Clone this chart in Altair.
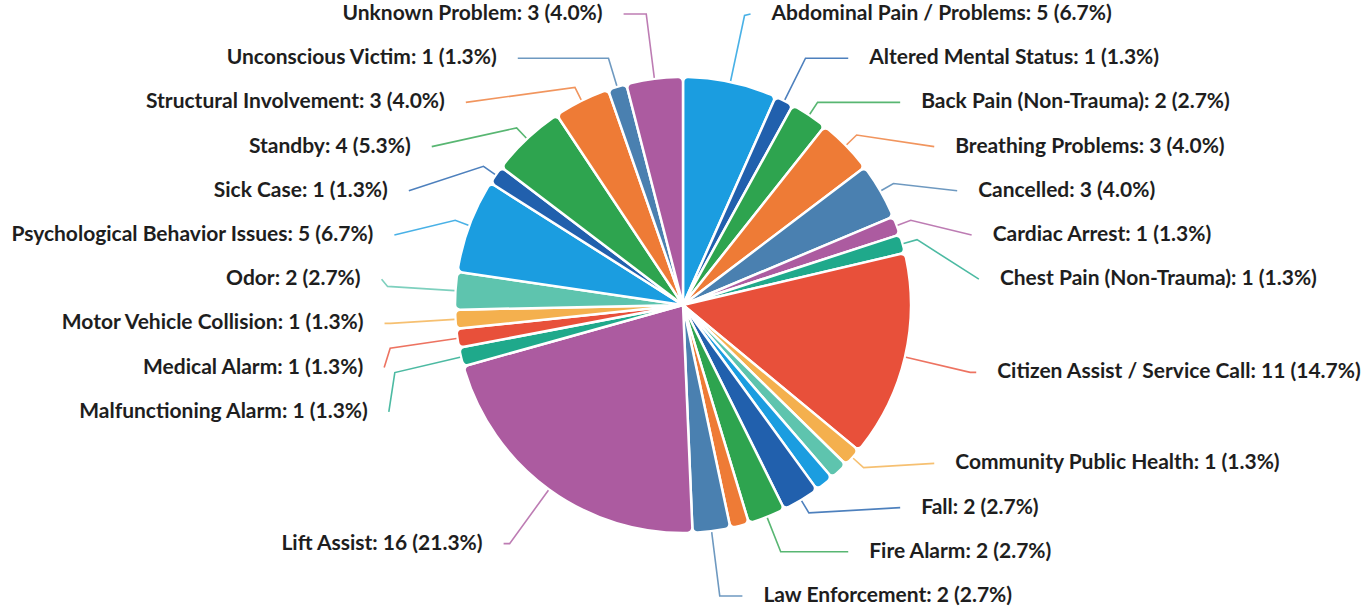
import math

import altair as alt
import pandas as pd

# Call types in alphabetical order (clockwise from 12 o'clock); blank names are slices drawn without a label
categories = [
    "Abdominal Pain / Problems", "Altered Mental Status", "Back Pain (Non-Trauma)",
    "Breathing Problems", "Cancelled", "Cardiac Arrest", "Chest Pain (Non-Trauma)",
    "Citizen Assist / Service Call", "Community Public Health", "", "", "Fall",
    "Fire Alarm", "", "Law Enforcement", "Lift Assist", "Malfunctioning Alarm",
    "Medical Alarm", "Motor Vehicle Collision", "Odor", "Psychological Behavior Issues",
    "Sick Case", "Standby", "Structural Involvement", "Unconscious Victim", "Unknown Problem",
]
counts = [5, 1, 2, 3, 3, 1, 1, 11, 1, 1, 1, 2, 2, 1, 2, 16, 1, 1, 1, 2, 5, 1, 4, 3, 1, 3]
palette = ["#1b9de0", "#2160ad", "#2ea44f", "#ee7b36", "#4a80b0",
           "#ac5ba0", "#1fa98b", "#e8503a", "#f4b04e", "#5ec4ae"]

W, H = 1366, 610            # plot area; pie is centred in it
R_PIE = 228                 # slice radius
R_TARGET = 295              # radius where a label would naturally sit
R_LABEL = 297               # leader lines end on this circle
ROW = 44.2                  # vertical room per label
ROW_LIMIT = 291             # outermost label row, from the centre
GAP = 21                    # connector end to text

total = sum(counts)
keys = [f"s{i:02d}" for i in range(len(counts))]
colors = [palette[i % len(palette)] for i in range(len(counts))]

slices = pd.DataFrame({"key": keys, "category": categories, "value": counts})

# mid-angle of each slice, clockwise from the top
mids, cum = [], 0
for v in counts:
    mids.append((cum + v / 2) / total * 2 * math.pi)
    cum += v


def distribute(targets, size, lo, hi):
    """Stack label boxes around their targets without overlap (groups merge)."""
    groups = [[t, t, 1] for t in targets]

    def place(g):
        span = g[2] * size
        return min(max((g[0] + g[1]) / 2 - span / 2, lo), hi - span)

    while True:
        pos = [place(g) for g in groups]
        hit = None
        for i in range(len(groups) - 1):
            if pos[i] + groups[i][2] * size > pos[i + 1] + 1e-9:
                hit = i
                break
        if hit is None:
            break
        a, b = groups[hit], groups[hit + 1]
        groups[hit:hit + 2] = [[min(a[0], b[0]), max(a[1], b[1]), a[2] + b[2]]]
    centers = []
    for g, p in zip(groups, pos):
        centers += [p + size * (k + 0.5) for k in range(g[2])]
    return centers


labelled = [i for i, c in enumerate(categories) if c]
rows = {}
for side in (1, -1):
    idx = [i for i in labelled if (math.sin(mids[i]) >= 0) == (side == 1)]
    idx.sort(key=lambda i: -R_TARGET * math.cos(mids[i]))
    ys = distribute([-R_TARGET * math.cos(mids[i]) for i in idx], ROW,
                    -ROW_LIMIT - ROW / 2, ROW_LIMIT + ROW / 2)
    for i, y in zip(idx, ys):
        rows[i] = (side, y)

line_rows, text_rows = [], []
for i in labelled:
    side, y = rows[i]
    s, c = math.sin(mids[i]), -math.cos(mids[i])
    r_row = y / c if abs(c) > 1e-6 and y / c > 0 else 1e9
    r_bend = min(max(r_row, R_PIE + 15), R_PIE + 68)
    bx, by = r_bend * s, r_bend * c
    ex = side * max(math.sqrt(max(R_LABEL ** 2 - y ** 2, 0)), abs(bx) + 6)
    pts = [((R_PIE + 1) * s, (R_PIE + 1) * c), (bx, by), (ex, y)]
    for step, (px, py) in enumerate(pts):
        line_rows.append({"key": keys[i], "step": step, "x": px, "y": py})
    pct = counts[i] / total * 100
    text_rows.append({
        "key": keys[i], "side": "right" if side == 1 else "left",
        "x": ex + side * GAP, "y": y,
        "text": f"{categories[i]}: {counts[i]} ({pct:.1f}%)",
    })

lines = pd.DataFrame(line_rows)
texts = pd.DataFrame(text_rows)

xs = alt.Scale(domain=[-W / 2, W / 2])
ys = alt.Scale(domain=[H / 2, -H / 2])
color = alt.Color("key:N", scale=alt.Scale(domain=keys, range=colors), legend=None)

pie = alt.Chart(slices).mark_arc(
    outerRadius=R_PIE, cornerRadius=5, stroke="white", strokeWidth=2.5
).encode(
    theta=alt.Theta("value:Q", stack=True),
    order=alt.Order("key:N"),
    color=color,
)

leaders = alt.Chart(lines).mark_line(strokeWidth=1.6, opacity=0.8).encode(
    x=alt.X("x:Q", scale=xs, axis=None),
    y=alt.Y("y:Q", scale=ys, axis=None),
    detail="key:N",
    order="step:Q",
    color=color,
)

text_style = dict(baseline="middle", font="Lato", fontWeight="bold", fontSize=21, color="#1e1e1e")
right_text = alt.Chart(texts).transform_filter(alt.datum.side == "right").mark_text(
    align="left", **text_style
).encode(x=alt.X("x:Q", scale=xs, axis=None), y=alt.Y("y:Q", scale=ys, axis=None), text="text:N")
left_text = alt.Chart(texts).transform_filter(alt.datum.side == "left").mark_text(
    align="right", **text_style
).encode(x=alt.X("x:Q", scale=xs, axis=None), y=alt.Y("y:Q", scale=ys, axis=None), text="text:N")

chart = alt.layer(pie, leaders, right_text, left_text).properties(
    width=W, height=H, padding=0, autosize=alt.AutoSizeParams(type="none"),
    background="white",
).configure_view(stroke=None)

chart.save("out.html", embed_options={"renderer": "svg", "actions": False})
